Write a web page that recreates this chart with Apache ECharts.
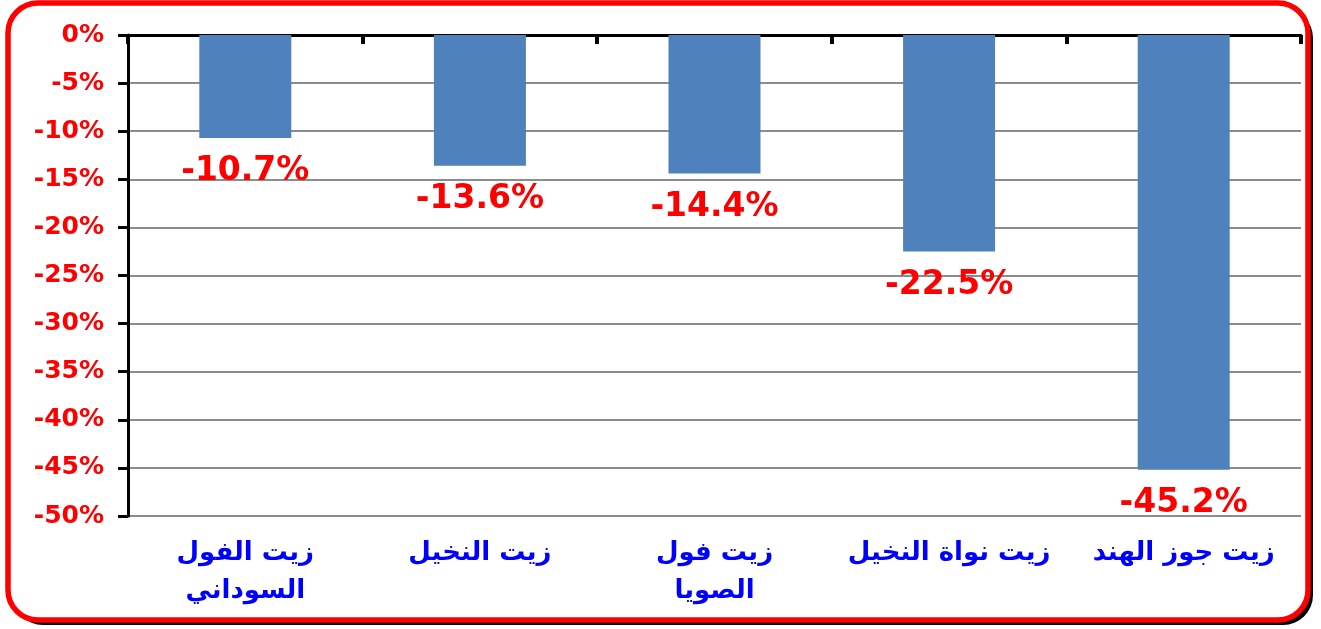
<!DOCTYPE html>
<html>
<head>
<meta charset="utf-8">
<script src="https://cdn.jsdelivr.net/npm/echarts@6/dist/echarts.min.js"></script>
<style>
  html, body { margin: 0; padding: 0; background: #fff; }
  #chart { width: 1321px; height: 629px; }
</style>
</head>
<body>
<div id="chart"></div>
<script>
// datos del grafico
const categorias = ['زيت الفول\nالسوداني', 'زيت النخيل', 'زيت فول\nالصويا', 'زيت نواة النخيل', 'زيت جوز الهند']
const valores = [-10.7, -13.6, -14.4, -22.5, -45.2]
const ejeMin = -50
const ejeMax = 0
const ejeIntervalo = 5

const chart = echarts.init(document.getElementById('chart'))

const fuente = 'DejaVu Sans'
const marco = { x: 8, y: 3, width: 1300, height: 617, r: 30 }

let option = {
  animation: false,
  graphic: [
    {
      // sombra negra del marco
      type: 'rect',
      shape: { x: marco.x + 5, y: marco.y + 5, width: marco.width, height: marco.height, r: marco.r },
      style: { fill: '#000' },
      z: -3
    },
    {
      type: 'rect',
      shape: marco,
      style: { fill: '#fff' },
      z: -2
    },
    {
      type: 'rect',
      shape: marco,
      style: { fill: 'none', stroke: '#ff0000', lineWidth: 5.5 },
      z: 10
    }
  ],
  grid: {
    left: 128,
    right: 20,
    top: 35,
    bottom: 113
  },
  xAxis: [
    {
      type: 'category',
      position: 'bottom',
      data: categorias,
      axisLine: { show: false, onZero: false },
      axisTick: { show: false },
      axisLabel: {
        interval: 0,
        margin: 18,
        color: '#0000ff',
        fontFamily: fuente,
        fontWeight: 'bold',
        fontSize: 26,
        lineHeight: 38
      }
    },
    {
      type: 'category',
      position: 'top',
      data: categorias,
      axisLine: { show: true, onZero: false, lineStyle: { color: '#000', width: 3 } },
      axisTick: { show: true, inside: true, length: 9, lineStyle: { color: '#000', width: 4 } },
      axisLabel: { show: false }
    }
  ],
  yAxis: {
    type: 'value',
    min: ejeMin,
    max: ejeMax,
    interval: ejeIntervalo,
    axisLine: { show: true, lineStyle: { color: '#000', width: 3 } },
    axisTick: { show: true, length: 10, lineStyle: { color: '#000', width: 3 } },
    axisLabel: {
      margin: 24,
      color: '#ff0000',
      fontFamily: fuente,
      fontWeight: 'bold',
      fontSize: 25,
      formatter: v => v + '%'
    },
    splitLine: { show: true, lineStyle: { color: '#8c8c8c', width: 2 } }
  },
  series: [
    {
      type: 'bar',
      xAxisIndex: 0,
      data: valores,
      barWidth: 92,
      itemStyle: { color: '#4f81bd' },
      label: {
        show: true,
        position: 'bottom',
        distance: 17,
        color: '#ff0000',
        fontFamily: fuente,
        fontWeight: 'bold',
        fontSize: 33,
        formatter: p => p.value.toFixed(1) + '%'
      }
    }
  ]
}

chart.setOption(option)
</script>
</body>
</html>
